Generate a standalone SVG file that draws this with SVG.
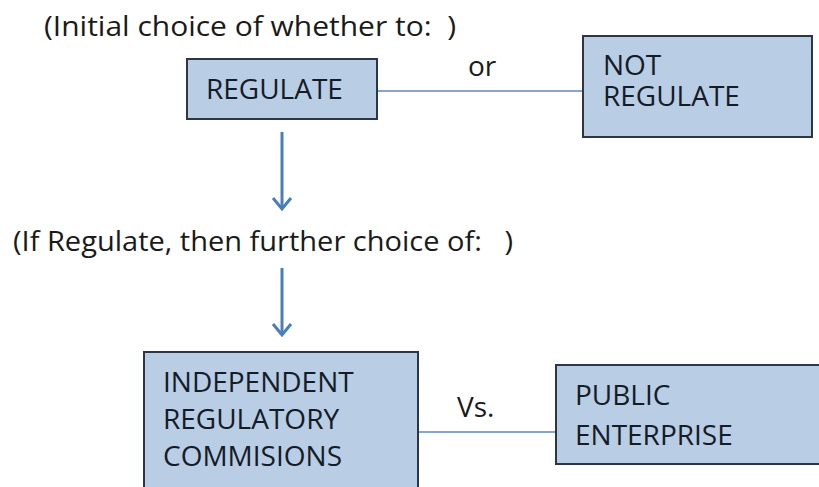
<svg xmlns="http://www.w3.org/2000/svg" width="819" height="487" viewBox="0 0 819 487">
<defs>
<style>
.box{fill:#b9cde5;stroke:#2c3645;stroke-width:2}
.t{font-family:"Open Sans","Liberation Sans",sans-serif;font-size:28px;fill:#1a1a1a;white-space:pre}
.bt{font-family:"Open Sans","Liberation Sans",sans-serif;font-size:28px;fill:#141c28}
.ln{stroke:#5d87b8;stroke-width:1.5;fill:none}
.ar{stroke:#4a7ebb;stroke-width:3;fill:none}
</style>
</defs>
<rect width="819" height="487" fill="#ffffff"/>
<text class="t" x="44" y="36" xml:space="preserve" textLength="412" lengthAdjust="spacingAndGlyphs">(Initial choice of whether to:  )</text>
<text class="t" x="13" y="251" xml:space="preserve" textLength="500" lengthAdjust="spacingAndGlyphs">(If Regulate, then further choice of:   )</text>
<g id="connectors">
<line class="ln" x1="377" y1="91" x2="583" y2="91"/>
<line class="ln" x1="418" y1="432" x2="556" y2="432"/>
<line class="ar" x1="282" y1="132" x2="282" y2="208"/>
<path class="ar" d="M273,198 L282,209 L291,198"/>
<line class="ar" x1="282" y1="268" x2="282" y2="334"/>
<path class="ar" d="M273,324 L282,335 L291,324"/>
<text class="t" x="468" y="76">or</text>
<text class="t" x="457" y="417">Vs.</text>
</g>
<g id="regulate">
<rect class="box" x="187" y="59" width="190" height="60"/>
<text class="bt" x="206" y="99">REGULATE</text>
</g>
<g id="not-regulate">
<rect class="box" x="583" y="36" width="229" height="101"/>
<text class="bt" x="603" y="75">NOT</text>
<text class="bt" x="603" y="106">REGULATE</text>
</g>
<g id="irc">
<rect class="box" x="144" y="352" width="274" height="140"/>
<text class="bt" x="163" y="392">INDEPENDENT</text>
<text class="bt" x="163" y="429">REGULATORY</text>
<text class="bt" x="163" y="466">COMMISIONS</text>
</g>
<g id="public">
<rect class="box" x="556" y="365" width="270" height="99"/>
<text class="bt" x="575" y="405">PUBLIC</text>
<text class="bt" x="575" y="445">ENTERPRISE</text>
</g>
</svg>
